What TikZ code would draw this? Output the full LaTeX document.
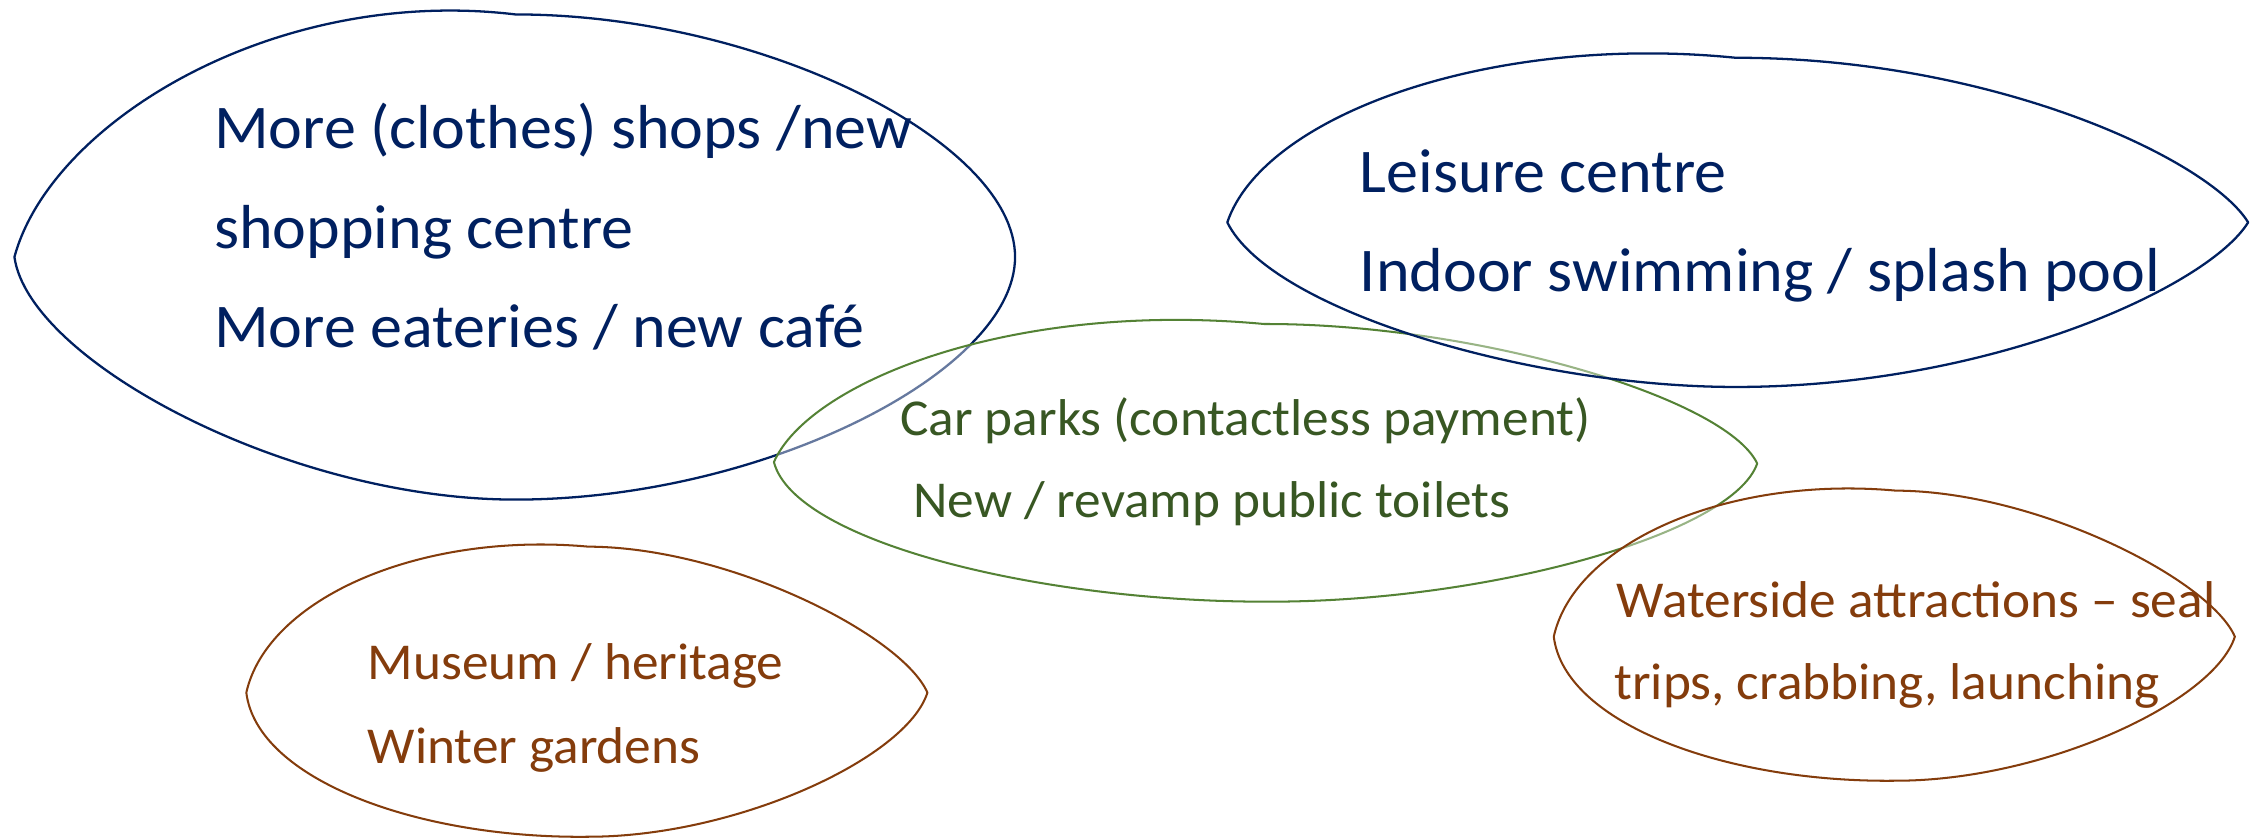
\documentclass[tikz,border=0pt]{standalone}
\usepackage{fontspec}
\setmainfont{Carlito}
\newfontfamily\labelfont[FakeStretch=1.03]{Carlito}
\definecolor{navy}{HTML}{002060}
\definecolor{leaf}{HTML}{548235}
\definecolor{leafdark}{HTML}{385723}
\definecolor{rust}{HTML}{843C0C}
\begin{document}
\begin{tikzpicture}[x=0.02cm,y=-0.02cm,
  blob/.style={line width=0.9pt, fill=white, fill opacity=0.4, line join=round},
  thinblob/.style={blob, line width=0.8pt},
  big/.style={font=\labelfont\fontsize{24.5}{29}\selectfont, anchor=base west, inner sep=0pt},
  small/.style={font=\labelfont\fontsize{20.4}{24}\selectfont, anchor=base west, inner sep=0pt}]
\useasboundingbox[fill=white] (0,0) rectangle (1568,581);

% shopping and eating
\draw[blob, draw=navy] (10,178) .. controls (35,85) and (190,-10) .. (357,10)
  .. controls (527,10) and (703,98) .. (703,178)
  .. controls (703,258) and (527,346) .. (357,346)
  .. controls (200,346) and (20,250) .. (10,178) -- cycle;

% parking and toilets
\draw[thinblob, draw=leaf] (536,320) .. controls (560,265) and (700,208) .. (875.5,224.4)
  .. controls (1020,224) and (1195,275) .. (1217,321)
  .. controls (1200,370) and (1030,417) .. (878,416.7)
  .. controls (720,417) and (550,375) .. (536,320) -- cycle;

% leisure
\draw[blob, draw=navy] (850,154) .. controls (875,80) and (1032,23) .. (1202,40)
  .. controls (1380,40) and (1530,110) .. (1557,154)
  .. controls (1530,198) and (1380,268) .. (1202,268)
  .. controls (1060,268) and (880,215) .. (850,154) -- cycle;

% waterside
\draw[thinblob, draw=rust] (1076.1,440.9) .. controls (1090.5,376.2) and (1195.5,329.2) .. (1313.1,339.8)
  .. controls (1410.5,340.2) and (1530.5,401.2) .. (1547.8,440.9)
  .. controls (1533.5,486.2) and (1415.5,540.7) .. (1313.1,540.7)
  .. controls (1195.5,542.2) and (1083.5,501.2) .. (1076.1,440.9) -- cycle;

% heritage
\draw[thinblob, draw=rust] (170.6,479.7) .. controls (185,415) and (290,368) .. (407.6,378.6)
  .. controls (505,379) and (625,440) .. (642.3,479.7)
  .. controls (628,525) and (510,579.5) .. (407.6,579.5)
  .. controls (290,581) and (178,540) .. (170.6,479.7) -- cycle;

\node[big, text=navy] (e1a) at (148,102.7) {More (clothes) shops /new};
\node[big, text=navy] (e1b) at (148,172) {shopping centre};
\node[big, text=navy] (e1c) at (148,240.5) {More eateries / new café};
\node[big, text=navy] (e2a) at (941.5,133.4) {Leisure centre};
\node[big, text=navy] (e2b) at (941.5,202) {Indoor swimming / splash pool};
\node[small, text=leafdark] (e3a) at (623.2,301.3) {Car parks (contactless payment)};
\node[small, text=leafdark] (e3b) at (632.2,358.3) {New / revamp public toilets};
\node[small, text=rust] (e4a) at (254.4,470.9) {Museum / heritage};
\node[small, text=rust] (e4b) at (254.4,528.6) {Winter gardens};
\node[small, text=rust] (e5a) at (1119.3,427.5) {Waterside attractions – seal};
\node[small, text=rust] (e5b) at (1117.7,484.8) {trips, crabbing, launching};
\end{tikzpicture}
\end{document}
